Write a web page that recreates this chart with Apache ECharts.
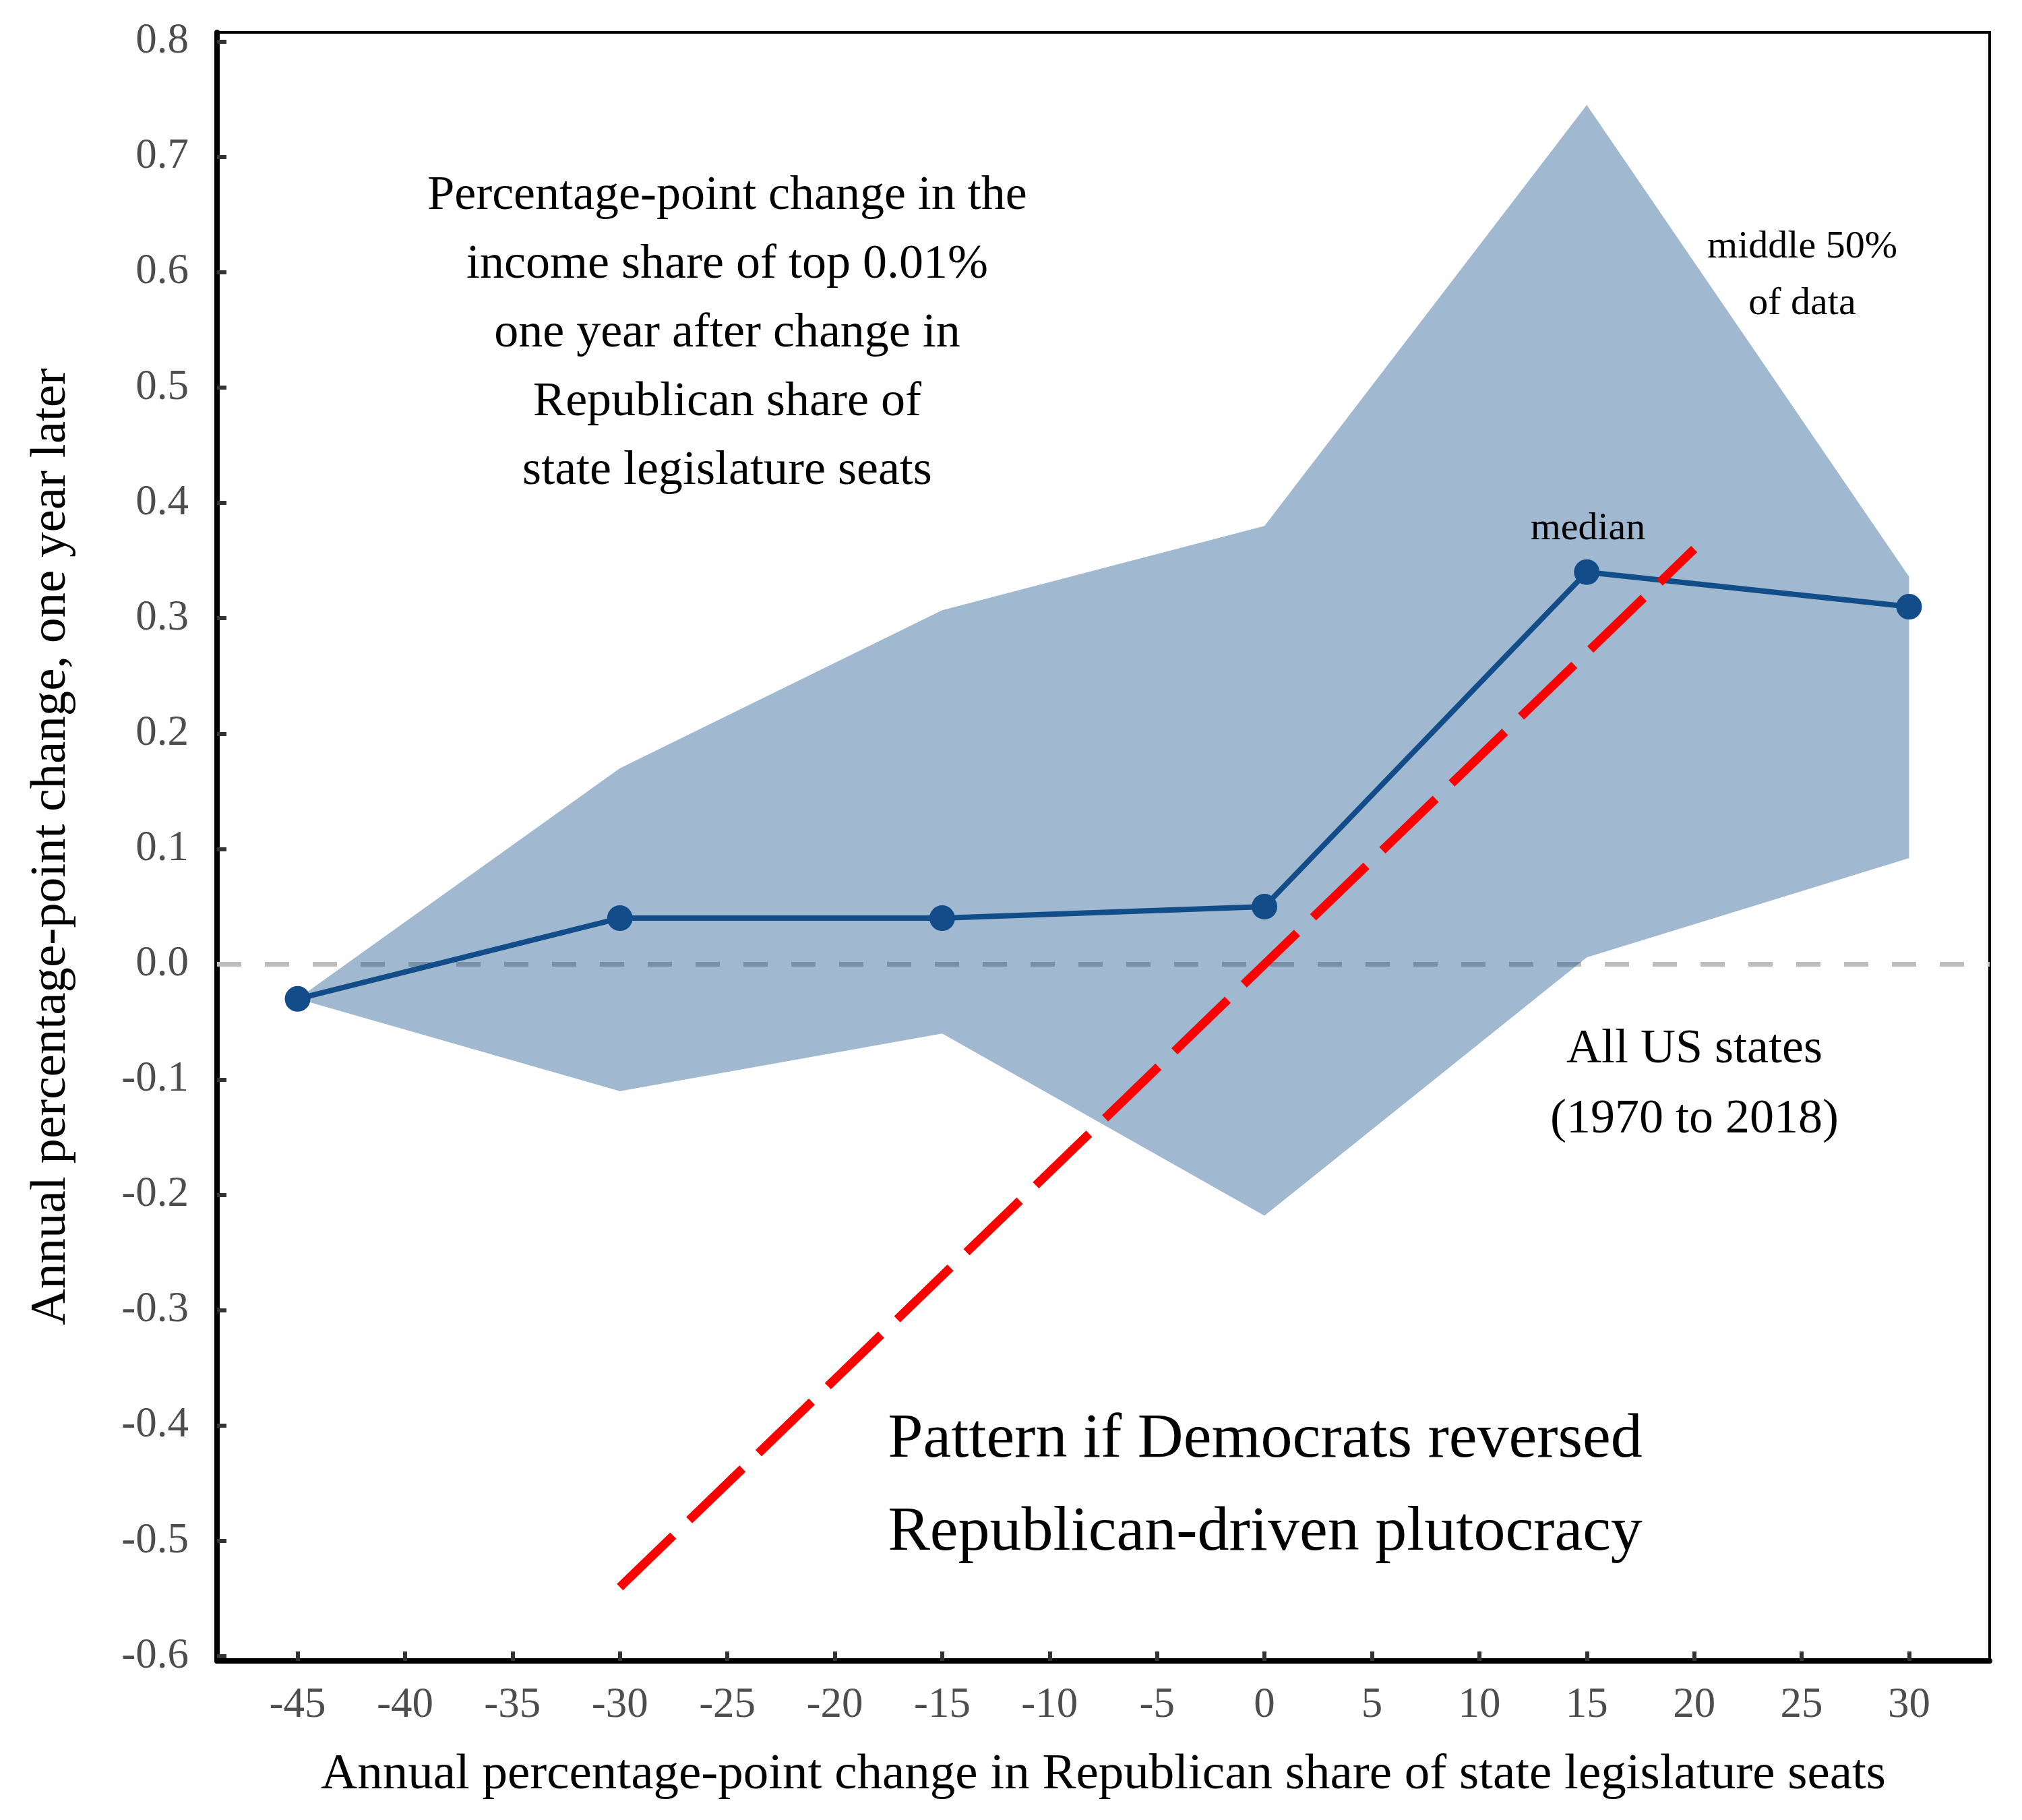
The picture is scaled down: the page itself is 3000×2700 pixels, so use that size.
<!DOCTYPE html>
<html><head><meta charset="utf-8">
<script src="https://cdn.jsdelivr.net/npm/echarts@6/dist/echarts.min.js"></script>
<style>html,body{margin:0;padding:0;background:#fff}#c{width:3000px;height:2700px}</style>
</head><body><div id="c"></div>
<script>
// ---- data ----
const xValues = [-45, -30, -15, 0, 15, 30];
const medianValues = [-0.03, 0.04, 0.04, 0.05, 0.34, 0.31];
const upperValues = [-0.03, 0.17, 0.307, 0.38, 0.745, 0.336];
const lowerValues = [-0.03, -0.11, -0.06, -0.218, 0.006, 0.092];
const reversedX = [-30, 20];
const reversedY = [-0.54, 0.36];
const xTicks = [-45, -40, -35, -30, -25, -20, -15, -10, -5, 0, 5, 10, 15, 20, 25, 30];
const yTicks = [-0.6, -0.5, -0.4, -0.3, -0.2, -0.1, 0, 0.1, 0.2, 0.3, 0.4, 0.5, 0.6, 0.7, 0.8];

const FONT = '"Liberation Serif", "Times New Roman", serif';
const chart = echarts.init(document.getElementById('c'), null, {renderer: 'canvas'});

const ribbonData = xValues.map((x, i) => [x, lowerValues[i], upperValues[i]]);
const medianData = xValues.map((x, i) => [x, medianValues[i]]);
const reversedData = reversedX.map((x, i) => [x, reversedY[i]]);

const option = {
  backgroundColor: '#ffffff',
  animation: false,
  grid: {left: 322, right: 48, top: 48, bottom: 236, show: true, borderColor: '#000', borderWidth: 4, backgroundColor: 'transparent'},
  xAxis: {
    type: 'value', min: -48.75, max: 33.75,
    splitLine: {show: false},
    axisLine: {show: true, onZero: false, lineStyle: {color: '#000', width: 8}},
    axisTick: {show: true, inside: true, length: 14, customValues: xTicks, lineStyle: {color: '#333', width: 6}},
    axisLabel: {show: true, customValues: xTicks, margin: 35, color: '#4d4d4d', fontFamily: FONT, fontSize: 63},
    name: 'Annual percentage-point change in Republican share of state legislature seats',
    nameLocation: 'middle', nameGap: 132,
    nameTextStyle: {color: '#000', fontFamily: FONT, fontSize: 75}
  },
  yAxis: {
    type: 'value', min: -0.604, max: 0.808,
    splitLine: {show: false},
    axisLine: {show: true, onZero: false, lineStyle: {color: '#000', width: 8}},
    axisTick: {show: true, inside: true, length: 14, customValues: yTicks, lineStyle: {color: '#333', width: 6}},
    axisLabel: {show: true, customValues: yTicks, margin: 42, color: '#4d4d4d', fontFamily: FONT, fontSize: 63,
      formatter: v => v.toFixed(1)},
    name: 'Annual percentage-point change, one year later',
    nameLocation: 'middle', nameGap: 208,
    nameTextStyle: {color: '#000', fontFamily: FONT, fontSize: 75}
  },
  series: [
    {
      type: 'line', data: [], z: 1, silent: true,
      markLine: {silent: true, z: 1, symbol: 'none', label: {show: false},
        lineStyle: {color: '#bdbdbd', width: 7, type: [36, 35]},
        data: [{yAxis: 0}]}
    },
    {
      type: 'custom', z: 2, silent: true,
      data: ribbonData,
      encode: {x: 0, y: [1, 2]},
      renderItem: function (params, api) {
        if (params.dataIndex !== 0) return null;
        const pts = [];
        for (let i = 0; i < ribbonData.length; i++) pts.push(api.coord([ribbonData[i][0], ribbonData[i][2]]));
        for (let i = ribbonData.length - 1; i >= 0; i--) pts.push(api.coord([ribbonData[i][0], ribbonData[i][1]]));
        return {type: 'polygon', shape: {points: pts}, style: {fill: 'rgba(17,77,138,0.4)', stroke: null}};
      }
    },
    {
      type: 'line', z: 4, data: medianData,
      symbol: 'circle', symbolSize: 38,
      itemStyle: {color: '#124d8a'},
      lineStyle: {color: '#124d8a', width: 8}
    },
    {
      type: 'line', z: 5, data: reversedData, symbol: 'none',
      lineStyle: {color: '#ff0000', width: 13, type: [110, 33], cap: 'butt'}
    }
  ],
  graphic: [
    {type: 'text', x: 1079, y: 495, z: 10, silent: true,
      style: {text: 'Percentage-point change in the\nincome share of top 0.01%\none year after change in\nRepublican share of\nstate legislature seats',
        fill: '#000', font: '72px ' + FONT, lineHeight: 102, align: 'center', verticalAlign: 'middle'}},
    {type: 'text', x: 2674, y: 409, z: 10, silent: true,
      style: {text: 'middle 50%\nof data', fill: '#000', font: '58px ' + FONT, lineHeight: 84, align: 'center', verticalAlign: 'middle'}},
    {type: 'text', x: 2356, y: 785, z: 10, silent: true,
      style: {text: 'median', fill: '#000', font: '58px ' + FONT, align: 'center', verticalAlign: 'middle'}},
    {type: 'text', x: 2514, y: 1609, z: 10, silent: true,
      style: {text: 'All US states\n(1970 to 2018)', fill: '#000', font: '72px ' + FONT, lineHeight: 104, align: 'center', verticalAlign: 'middle'}},
    {type: 'text', x: 1877, y: 2205, z: 10, silent: true,
      style: {text: 'Pattern if Democrats reversed\nRepublican-driven plutocracy', fill: '#000', font: '94px ' + FONT, lineHeight: 138, align: 'center', verticalAlign: 'middle'}}
  ]
};
chart.setOption(option);
</script>
</body></html>
